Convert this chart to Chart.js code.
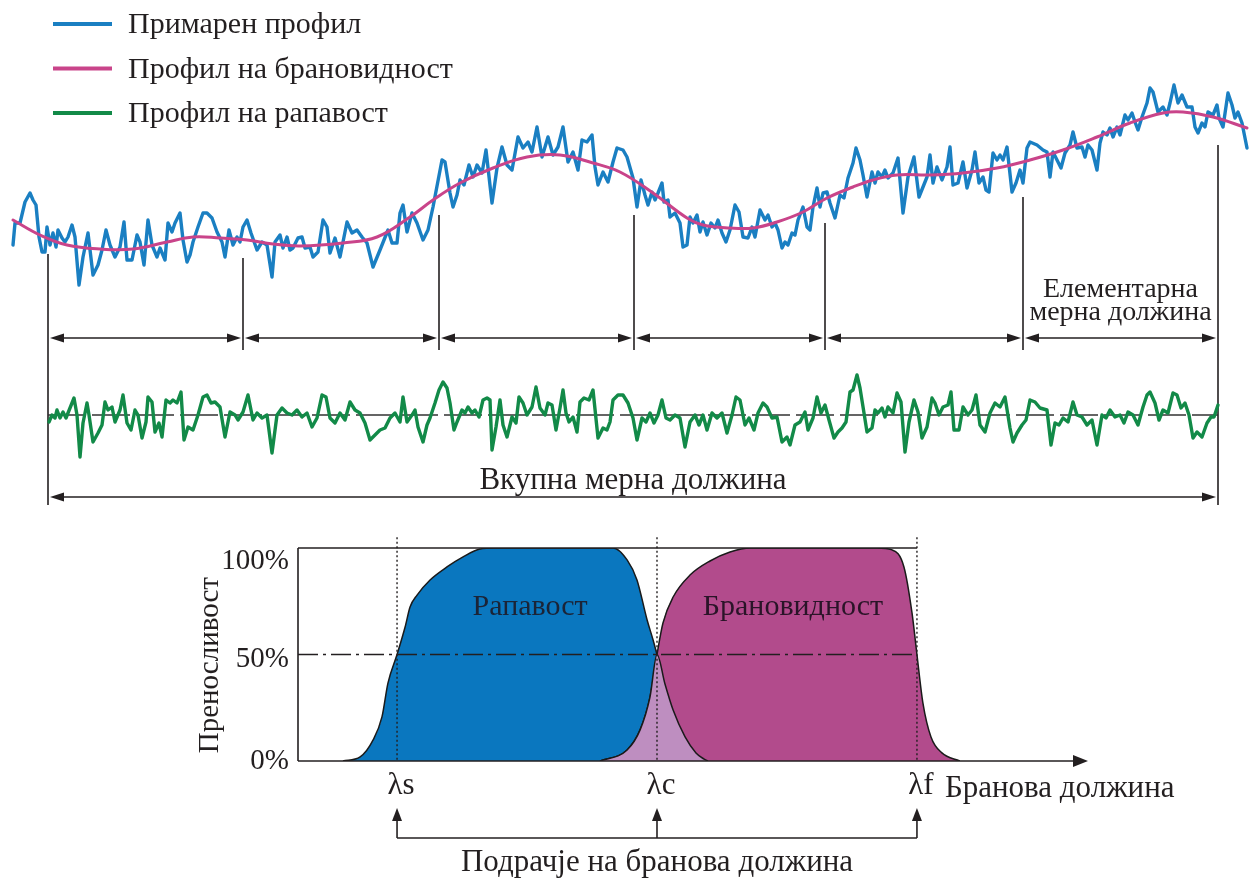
<!DOCTYPE html>
<html lang="mk">
<head>
<meta charset="utf-8">
<title>Примарен профил, брановидност и рапавост</title>
<script src="https://cdn.jsdelivr.net/npm/chart.js@4.4.1/dist/chart.umd.min.js"></script>
<style>
  html, body { margin: 0; padding: 0; background: #fff; }
  #wrap { position: relative; width: 1251px; height: 881px; overflow: hidden; }
  #profile { position: absolute; left: 0; top: 0; width: 1251px; height: 520px; }
  #filter { position: absolute; left: 0; top: 520px; width: 1251px; height: 361px; }
</style>
</head>
<body>
<div id="wrap">
  <canvas id="profile" width="1251" height="520"></canvas>
  <canvas id="filter" width="1251" height="361"></canvas>
</div>
<script>
// ---- profile data (position along the trace, height) ----
const primaryPos = [
  13,15,20,25,30,33,36,39,42,45, 47,50,53,56,58,62,65,68,72,75,
  79,83,88,93,98,102,106,110,115,120, 124,127,132,137,140,144,148,152,157,160,
  165,168,172,175,180,183,187,190,193,198, 203,207,212,217,222,225,229,233,237,240,
  243,247,251,257,262,267,272,275,280,283, 287,290,293,298,302,305,310,313,318,323,
  327,330,335,340,347,352,357,362,367,373, 380,388,392,397,400,403,407,412,417,423,
  428,433,442,445,450,453,457,460,464,469, 473,477,482,486,492,497,502,507,512,518,
  523,528,532,537,542,548,553,558,563,568, 573,578,582,587,592,595,598,603,608,613,
  617,623,627,633,637,641,645,648,652,655, 658,662,664,668,670,675,680,683,687,690,
  693,697,700,703,707,711,715,718,722,726, 730,735,739,743,748,752,755,760,765,768,
  772,775,778,782,785,788,792,795,798,803, 807,810,813,817,820,823,827,830,835,840,
  844,848,853,856,860,863,867,872,875,878, 882,885,888,893,898,903,908,914,919,923,
  927,930,933,937,942,947,950,953,958,963, 967,972,975,979,983,986,989,993,997,1000,
  1003,1007,1012,1016,1020,1023,1027,1030,1037,1043, 1047,1050,1053,1057,1061,1065,1070,1073,1077,1082,
  1085,1088,1092,1097,1100,1103,1107,1110,1113,1117, 1120,1125,1128,1132,1135,1138,1142,1147,1150,1153,
  1158,1163,1167,1170,1174,1178,1182,1187,1192,1195, 1198,1202,1205,1208,1213,1217,1219,1223,1228,1232,
  1235,1238,1242,1247
];
const primaryVal = [
  15,37,37,58,67,60,55,23,8,8, 33,15,27,13,30,22,18,23,35,23,
  -25,3,27,-15,-5,10,30,15,3,13, 38,0,0,25,18,-5,40,15,3,12,
  0,37,28,37,47,20,-2,5,18,33, 47,47,42,28,18,3,30,15,23,18,
  33,40,27,10,18,15,-17,18,25,12, 23,10,12,22,23,12,13,3,8,40,
  33,7,22,3,38,27,30,23,17,-7, 10,30,17,17,47,55,28,47,37,20,
  30,53,100,98,67,53,65,80,75,95, 83,95,87,110,57,92,113,95,90,123,
  112,118,108,133,103,123,105,113,133,98, 108,90,120,118,125,93,75,88,78,98,
  112,110,103,82,53,80,65,55,68,60, 67,77,58,60,43,47,37,13,15,43,
  37,45,28,38,25,37,32,40,27,18, 30,55,48,23,22,33,23,50,40,45,
  33,37,30,12,18,15,27,25,40,53, 33,30,53,72,53,67,68,57,42,65,
  62,82,97,112,100,85,63,88,77,88, 83,90,82,87,102,47,83,103,63,73,
  83,105,77,93,80,93,113,75,77,98, 72,90,108,77,83,70,68,107,100,105,
  100,113,68,77,90,77,112,118,115,110, 108,83,108,100,92,107,115,128,112,113,
  103,115,110,90,117,128,125,132,123,133, 125,145,140,147,138,130,143,157,172,168,
  148,153,145,157,175,157,165,153,153,133, 127,137,133,148,145,155,142,133,167,155,
  142,148,137,112
];
const wavePos = [13,40,67,100,133,167,193,220,247,273,300,343,377,410,433,460,493,527,560,593,620,653,
  687,703,730,753,777,803,827,853,873,897,930,963,997,1030,1063,1097,1130,1163,1183,1213,1247];
const waveVal = [40,25,15,11,11,18,23,22,20,16,14,17,23,43,60,77,92,103,105,97,88,67,
  42,35,32,32,38,48,62,73,80,85,85,87,92,100,110,123,137,147,148,143,132];
const roughPos = [
  49,52,55,57,60,63,66,68,72,74, 77,80,83,87,89,93,98,102,105,108,
  112,115,120,123,127,131,135,138,142,146, 148,152,155,159,162,166,170,173,177,181,
  184,188,193,198,203,207,211,215,220,225, 230,235,238,243,248,253,257,262,267,272,
  277,282,287,292,297,302,307,312,317,322, 326,330,335,340,345,350,355,360,365,370,
  375,380,385,390,395,400,403,407,412,415, 418,423,427,430,435,439,443,447,450,454,
  457,462,465,468,472,475,479,483,487,490, 492,496,500,503,507,512,516,519,523,527,
  532,536,540,545,548,552,556,560,563,566, 569,573,577,580,584,589,593,598,603,607,
  610,613,618,623,628,633,637,642,646,650, 654,658,662,666,670,675,680,685,690,695,
  699,703,707,712,717,722,727,732,736,740, 745,749,754,758,763,767,772,777,782,787,
  790,795,800,805,808,813,817,821,825,829, 834,838,842,846,850,853,857,860,864,867,
  872,875,878,882,885,888,893,897,901,905, 909,914,918,922,927,932,935,939,943,948,
  951,954,959,963,968,972,976,980,985,990, 995,1000,1005,1010,1013,1017,1022,1026,1030,1035,
  1040,1047,1051,1055,1059,1063,1068,1073,1077,1082, 1087,1092,1097,1102,1106,1110,1115,1120,1124,1128,
  1133,1138,1143,1147,1150,1155,1159,1163,1168,1173, 1177,1181,1185,1189,1193,1197,1202,1207,1211,1214,
  1218
];
const roughVal = [
  -7,0,-3,5,-3,3,-3,2,12,17, 0,-42,-8,12,0,-27,-18,-10,13,5,
  8,-7,5,20,-8,-15,5,0,-23,-7, 18,13,-17,-8,-22,15,12,15,12,23,
  -25,-12,-15,0,18,20,12,13,8,-22, 3,0,-5,3,20,-5,2,-3,0,-38,
  0,7,2,0,5,-2,2,-12,-3,20, 18,-3,-8,2,-5,13,5,2,-8,-25,
  -20,-15,-13,-3,2,-7,18,-7,0,5, -12,-27,-10,-3,12,25,33,27,12,-15,
  -7,5,2,8,2,5,-2,15,17,15, -35,-12,15,-10,-22,-2,-8,18,12,0,
  8,28,7,0,12,10,-15,7,25,2, -7,-2,-17,13,17,15,25,-23,-13,-15,
  -7,15,20,20,12,-3,-25,-3,-7,2, -8,0,15,-3,-5,0,-3,-32,-7,0,
  -10,0,-15,2,-3,2,-18,0,18,15, -10,-3,-15,2,12,8,-3,-2,-27,-22,
  -30,-10,-7,3,-15,-3,18,2,10,-5, -23,-17,-13,-7,23,25,40,27,2,-17,
  -13,5,2,7,-2,8,2,22,13,-37, -7,15,3,-23,-12,17,12,0,8,10,
  23,-15,-15,8,0,5,20,-10,-17,2, 12,8,18,-13,-27,-18,-10,-5,15,13,
  7,5,-30,-8,-10,-3,-7,13,0,-2, -10,-5,-30,0,-3,5,-2,0,-8,3,
  0,-10,8,20,23,12,-5,5,2,22, 20,7,12,0,-23,-17,-22,-8,-2,-2,
  10
];
// sampling-length boundaries and where each divider starts (profile height units)
const samplingEdges = [48, 243, 439, 634, 825, 1023, 1218];
const edgeTops = [6, 2, 45, 45, 37, 63, 115];

// ---- transmission data (wavelength index, %) ----
const lambdaPos = [1, 2, 3];
const lambdaLabels = ['λs', 'λc', 'λf'];
const transTicks = [0, 50, 100];
const roughPassX = [0.792,0.858,0.908,0.942,0.965,1.0,1.031,1.05,1.077,1.127,1.192,1.254,1.319,1.377,
  1.831,1.885,1.923,1.962,1.985,2.0,2.031,2.062,2.108,2.15,2.181,2.196];
const roughPassY = [0,1.9,9.9,20.7,36.6,50,62.9,72.3,77.9,85,91.1,95.8,99.5,100,
  100,94.4,85,66.2,56.8,50,36,23.9,11.3,3.8,0.9,0];
const wavePassX = [1.781,1.885,1.935,1.973,2.0,2.023,2.062,2.127,2.204,2.281,2.358,2.846,2.904,2.95,2.981,3.0,3.023,3.054,3.096,3.165];
const wavePassY = [0,5.2,14.6,30,50,64.8,77,87.3,93.9,98.1,100,100,99.1,91.1,69.5,50,27.2,11.3,3.8,0];
const overlapX = [1.781,1.885,1.935,1.973,2.0,2.031,2.062,2.108,2.15,2.181,2.196];
const overlapY = [0,5.2,14.6,30,50,36,23.9,11.3,3.8,0.9,0];

const INK = '#231f20';
const SERIF = '"Liberation Serif", "Times New Roman", serif';
const BLUE = '#1a7fc2';
const PINK = '#c9448a';
const GREEN = '#128a48';

const toPts = (xs, ys) => xs.map((x, i) => ({ x: x, y: ys[i] }));

function seg(ctx, x1, y1, x2, y2) {
  ctx.beginPath(); ctx.moveTo(x1, y1); ctx.lineTo(x2, y2); ctx.stroke();
}
// filled arrow head, tip at (x,y) pointing along (dx,dy)
function head(ctx, x, y, dx, dy, len, half) {
  const bx = x - dx * len, by = y - dy * len;
  ctx.beginPath();
  ctx.moveTo(x, y);
  ctx.lineTo(bx - dy * half, by + dx * half);
  ctx.lineTo(bx + dy * half, by - dx * half);
  ctx.closePath(); ctx.fill();
}

const profileMarks = {
  id: 'profileMarks',
  beforeDatasetsDraw(chart) {
    const { ctx, scales: { x, yP, yR } } = chart;
    ctx.save();
    ctx.strokeStyle = INK; ctx.fillStyle = INK; ctx.lineWidth = 1.6;
    const rowY = yP.getPixelForValue(-78);
    const n = samplingEdges.length;
    samplingEdges.forEach((e, i) => {
      const bottom = (i === 0 || i === n - 1) ? -245 : -90;
      const px = x.getPixelForValue(e);
      seg(ctx, px, yP.getPixelForValue(edgeTops[i]), px, yP.getPixelForValue(bottom));
    });
    for (let i = 0; i < n - 1; i++) {
      const a = x.getPixelForValue(samplingEdges[i]) + 2;
      const b = x.getPixelForValue(samplingEdges[i + 1]) - 2;
      seg(ctx, a + 8, rowY, b - 8, rowY);
      head(ctx, a, rowY, -1, 0, 14, 4.5);
      head(ctx, b, rowY, 1, 0, 14, 4.5);
    }
    const totY = yP.getPixelForValue(-237);
    const ta = x.getPixelForValue(samplingEdges[0]) + 2, tb = x.getPixelForValue(samplingEdges[n - 1]) - 2;
    seg(ctx, ta + 8, totY, tb - 8, totY);
    head(ctx, ta, totY, -1, 0, 14, 4.5);
    head(ctx, tb, totY, 1, 0, 14, 4.5);
    // mean line of the roughness profile
    ctx.setLineDash([38, 6]);
    ctx.strokeStyle = '#333';
    seg(ctx, x.getPixelForValue(samplingEdges[0]), yR.getPixelForValue(0), x.getPixelForValue(samplingEdges[n - 1]), yR.getPixelForValue(0));
    ctx.restore();
  },
  afterDatasetsDraw(chart) {
    const { ctx, scales: { x, yP } } = chart;
    ctx.save();
    ctx.fillStyle = INK;
    ctx.textAlign = 'center';
    ctx.textBaseline = 'alphabetic';
    const n = samplingEdges.length;
    const elemX = (x.getPixelForValue(samplingEdges[n - 2]) + x.getPixelForValue(samplingEdges[n - 1])) / 2;
    ctx.font = '28px ' + SERIF;
    ctx.fillText('Елементарна', elemX, yP.getPixelForValue(-37));
    ctx.fillText('мерна должина', elemX, yP.getPixelForValue(-60));
    const totX = (x.getPixelForValue(samplingEdges[0]) + x.getPixelForValue(samplingEdges[n - 1])) / 2;
    ctx.font = '31px ' + SERIF;
    ctx.fillText('Вкупна мерна должина', totX, yP.getPixelForValue(-229));
    // legend
    ctx.textAlign = 'left';
    ctx.font = '30px ' + SERIF;
    chart.data.datasets.forEach((ds, i) => {
      const base = 33 + i * 44.5;
      ctx.strokeStyle = ds.borderColor; ctx.lineWidth = 4;
      seg(ctx, 53, base - 9, 112, base - 9);
      ctx.fillText(ds.label, 128, base);
    });
    ctx.restore();
  }
};

new Chart(document.getElementById('profile'), {
  type: 'line',
  data: {
    datasets: [
      { label: 'Примарен профил', data: toPts(primaryPos, primaryVal), borderColor: BLUE, borderWidth: 3.4, yAxisID: 'yP', order: 2 },
      { label: 'Профил на брановидност', data: toPts(wavePos, waveVal), borderColor: PINK, borderWidth: 3, tension: 0.4, yAxisID: 'yP', order: 1 },
      { label: 'Профил на рапавост', data: toPts(roughPos, roughVal), borderColor: GREEN, borderWidth: 3.4, yAxisID: 'yR', order: 3 }
    ]
  },
  options: {
    responsive: false, animation: false, events: [],
    layout: { padding: 0 },
    elements: { point: { radius: 0 }, line: { borderJoinStyle: 'round', borderCapStyle: 'round', fill: false } },
    scales: {
      x: { type: 'linear', min: 0, max: 1251, display: false },
      yP: { type: 'linear', min: -260, max: 260, display: false },
      yR: { type: 'linear', min: -105, max: 415, display: false }
    },
    plugins: { legend: { display: false }, tooltip: { enabled: false } }
  },
  plugins: [profileMarks]
});

const filterMarks = {
  id: 'filterMarks',
  afterDatasetsDraw(chart) {
    const { ctx, chartArea: a, scales: { x, y } } = chart;
    const px = v => x.getPixelForValue(v), py = v => y.getPixelForValue(v);
    const lf = px(lambdaPos[2]);
    ctx.save();
    ctx.strokeStyle = INK; ctx.fillStyle = INK; ctx.lineWidth = 1.6;
    seg(ctx, a.left, py(100), lf, py(100));
    seg(ctx, a.left, py(100), a.left, py(0));
    seg(ctx, a.left, py(0), a.right - 10, py(0));
    head(ctx, a.right, py(0), 1, 0, 15, 6);
    ctx.lineWidth = 1.4;
    ctx.setLineDash([2, 2.5]);
    lambdaPos.forEach(l => seg(ctx, px(l), py(105), px(l), py(0)));
    ctx.setLineDash([20, 5, 3, 5]);
    seg(ctx, a.left, py(50), lf, py(50));
    ctx.setLineDash([]);

    // region labels
    ctx.font = '30px ' + SERIF;
    ctx.textAlign = 'center'; ctx.textBaseline = 'alphabetic';
    ctx.fillStyle = '#1b2437';
    ctx.fillText(chart.data.datasets[0].label, px(1.512), py(68.5));
    ctx.fillStyle = '#2a1428';
    ctx.fillText(chart.data.datasets[1].label, px(2.523), py(68.5));

    // y tick labels and title
    ctx.fillStyle = INK;
    ctx.font = '29px ' + SERIF;
    ctx.textAlign = 'right'; ctx.textBaseline = 'middle';
    transTicks.forEach(v => {
      const nudge = v === 100 ? 13 : (v === 0 ? 0 : 5);
      ctx.fillText(v + '%', a.left - 9, py(v) + nudge);
    });
    ctx.save();
    ctx.font = '29px ' + SERIF;
    ctx.translate(a.left - 88, py(45));
    ctx.rotate(-Math.PI / 2);
    ctx.textAlign = 'center';
    ctx.fillText('Преносливост', 0, 0);
    ctx.restore();

    // wavelength labels
    ctx.font = '31px ' + SERIF;
    ctx.textAlign = 'center'; ctx.textBaseline = 'alphabetic';
    lambdaPos.forEach((l, i) => ctx.fillText(lambdaLabels[i], px(l) + 4, a.bottom + 33));
    ctx.textAlign = 'left';
    ctx.fillText('Бранова должина', lf + 28, a.bottom + 36);

    // wavelength range bracket
    const brY = a.bottom + 77, tipY = a.bottom + 47;
    ctx.lineWidth = 1.6;
    seg(ctx, px(lambdaPos[0]), brY, lf, brY);
    lambdaPos.forEach(l => {
      seg(ctx, px(l), brY, px(l), tipY + 10);
      head(ctx, px(l), tipY, 0, -1, 13, 5);
    });
    ctx.textAlign = 'center';
    ctx.fillText('Подрачје на бранова должина', px(lambdaPos[1]), a.bottom + 110);
    ctx.restore();
  }
};

new Chart(document.getElementById('filter'), {
  type: 'line',
  data: {
    datasets: [
      { label: 'Рапавост', data: toPts(roughPassX, roughPassY), backgroundColor: '#0a77bf', fill: 'origin', order: 3 },
      { label: 'Брановидност', data: toPts(wavePassX, wavePassY), backgroundColor: '#b24b8c', fill: 'origin', order: 2 },
      { label: 'Преклоп', data: toPts(overlapX, overlapY), backgroundColor: '#be8ec0', fill: 'origin', order: 1 }
    ]
  },
  options: {
    responsive: false, animation: false, events: [],
    layout: { padding: { left: 298, right: 163, top: 28, bottom: 120 } },
    elements: {
      point: { radius: 0 },
      line: { borderColor: '#1a1a1a', borderWidth: 1.5, cubicInterpolationMode: 'monotone' }
    },
    scales: {
      x: { type: 'linear', min: 0.619, max: 3.658, display: false },
      y: { type: 'linear', min: 0, max: 100, display: false }
    },
    plugins: { legend: { display: false }, tooltip: { enabled: false } }
  },
  plugins: [filterMarks]
});
</script>
</body>
</html>
